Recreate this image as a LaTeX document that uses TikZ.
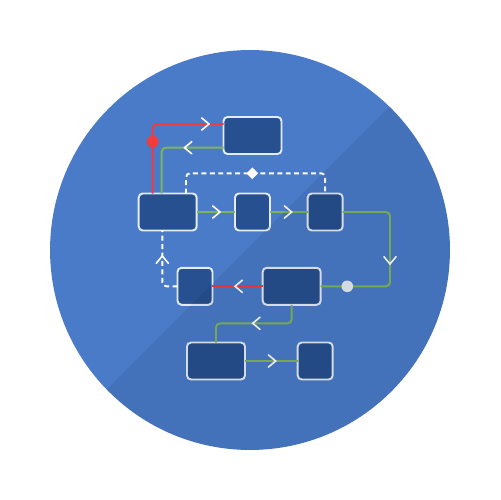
\documentclass[tikz,border=0pt]{standalone}
\usetikzlibrary{shapes.geometric}
\definecolor{circ}{HTML}{4A7BC9}
\definecolor{boxfill}{HTML}{26508F}
\definecolor{boxline}{HTML}{E4ECF7}
\definecolor{gline}{HTML}{7FB55A}
\definecolor{rline}{HTML}{F03C3C}
\definecolor{dotc}{HTML}{E6EBF2}
\tikzset{
  box/.style={draw=boxline, fill=boxfill, line width=1.1pt, rounded corners=2.3pt,
    minimum height=0.74cm, inner sep=0pt, outer sep=0pt},
  wide/.style={box, minimum width=1.16cm},
  narrow/.style={box, minimum width=0.70cm},
  greenl/.style={draw=gline, line width=1.1pt, rounded corners=2.3pt},
  redl/.style={draw=rline, line width=1.1pt, rounded corners=2.3pt},
  dashl/.style={draw=white, line width=1.1pt, rounded corners=2.3pt, dash pattern=on 2.8pt off 2pt},
  chev/.pic={\draw[white, line width=0.9pt, line cap=round] (-4.2pt,3.5pt) -- (0,0) -- (-4.2pt,-3.5pt);},
}
\begin{document}
\begin{tikzpicture}[x=0.02cm, y=-0.02cm]
\useasboundingbox (0,0) rectangle (500,500);
\fill[circ] (250,250) circle[radius=4cm];
% boxes
\node[wide]   (A) at (252.5,135.5) {};
\node[wide]   (B) at (167.7,212) {};
\node[narrow] (C) at (252.5,212) {};
\node[narrow] (D) at (325.2,212) {};
\node[narrow] (E) at (195,286.3) {};
\node[wide]   (F) at (291.7,286.3) {};
\node[wide]   (G) at (216,361) {};
\node[narrow] (H) at (315.2,361) {};
% turning points
\coordinate (k1) at (152.7,124);
\coordinate (k2) at (161.7,147.7);
\coordinate (k3) at (186,173.3);
\coordinate (k6) at (390,286.3);
\coordinate (k7) at (162.3,286.3);
\coordinate (k8) at (250,323.3);
% connectors
\draw[redl] (B.north -| k1) |- (A.west |- k1);
\draw[greenl] (A.west |- k2) -| (B.north -| k2);
\draw[dashl] (B.north -| k3) |- (D.north |- k3) -- (D.north);
\draw[greenl] (B.east) -- (C.west);
\draw[greenl] (C.east) -- (D.west);
\draw[greenl] (D.east) -| (k6) -- (F.east);
\draw[redl] (F.west) -- (E.east);
\draw[dashl] (E.west) -| (B.south -| k7);
\draw[greenl] (F.south) |- (G.north |- k8) -- (G.north);
\draw[greenl] (G.east) -- (H.west);
% markers
\fill[rline] (152.7,141.7) circle[radius=3.4pt];
\fill[dotc] (347.3,286.3) circle[radius=3.3pt];
\node[diamond, fill=white, inner sep=0pt, minimum size=0.24cm] (dm) at (252.3,173.3) {};
% chevrons
\pic at (209,124) {chev};
\pic[rotate=180] at (184.5,147.7) {chev};
\pic at (220,212) {chev};
\pic at (291.7,212) {chev};
\pic[rotate=-90] at (390,264) {chev};
\pic[rotate=180] at (235,286.3) {chev};
\pic[rotate=90] at (162.3,256) {chev};
\pic[rotate=180] at (252.7,323.3) {chev};
\pic at (275.7,361) {chev};
% diagonal shade
\begin{scope}
\clip (250,250) circle[radius=4cm];
\fill[black, opacity=0.07] (-10,506) -- (506,-10) -- (600,600) -- cycle;
\end{scope}
\end{tikzpicture}
\end{document}
